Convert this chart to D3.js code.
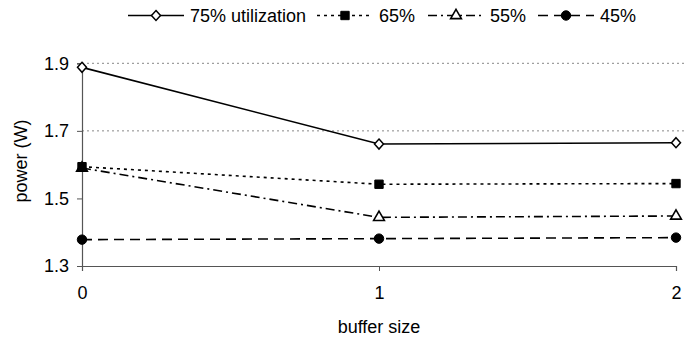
<!DOCTYPE html>
<html>
<head>
<meta charset="utf-8">
<script src="https://cdn.jsdelivr.net/npm/d3@7"></script>
<style>
  html, body { margin: 0; padding: 0; background: #fff; }
  svg { display: block; font-family: "Liberation Sans", Arial, sans-serif; }
</style>
</head>
<body>
<svg id="chart" width="691" height="337"></svg>
<script>
// Buffer size on the x axis
const bufferSizes = [0, 1, 2];

// Power (W) per utilization level
const util75 = [1.888, 1.661, 1.665];
const util65 = [1.594, 1.542, 1.544];
const util55 = [1.590, 1.444, 1.448];
const util45 = [1.378, 1.381, 1.384];

const seriesNames = ["75% utilization", "65%", "55%", "45%"];
const yTicks = [1.3, 1.5, 1.7, 1.9];
const gridValues = [1.7, 1.9];

const series = [
  { name: seriesNames[0], values: util75, dash: null,        marker: "diamond",  fill: "#fff" },
  { name: seriesNames[1], values: util65, dash: "3,4",       marker: "square",   fill: "#000" },
  { name: seriesNames[2], values: util55, dash: "9,4,2,4",   marker: "triangle", fill: "#fff" },
  { name: seriesNames[3], values: util45, dash: "10,6",      marker: "circle",   fill: "#000" }
];

const svg = d3.select("#chart");
const plotLeft = 82, plotRight = 676, plotTop = 63.3, plotBottom = 266, gridRight = 685;

const x = d3.scaleLinear().domain([0, 2]).range([plotLeft, plotRight]);
const y = d3.scaleLinear().domain([1.3, 1.9]).range([plotBottom, plotTop]);

// Gridlines
svg.append("g").selectAll("line").data(gridValues).join("line")
  .attr("x1", plotLeft).attr("x2", gridRight)
  .attr("y1", d => y(d)).attr("y2", d => y(d))
  .attr("stroke", "#888").attr("stroke-width", 1)
  .attr("stroke-dasharray", "2,3");

// Y axis
const yAxis = svg.append("g").attr("transform", `translate(${plotLeft},0)`)
  .call(d3.axisLeft(y).tickValues(yTicks).tickFormat(d3.format(".1f")).tickSize(5).tickPadding(8));
yAxis.select(".domain").attr("stroke", "#555").attr("stroke-width", 1.2);
yAxis.selectAll(".tick line").attr("stroke", "#555");
yAxis.selectAll("text").attr("font-size", 18).attr("fill", "#000");

// X axis
const xAxis = svg.append("g").attr("transform", `translate(0,${plotBottom})`)
  .call(d3.axisBottom(x).tickValues(bufferSizes).tickFormat(d3.format("d")).tickSize(5).tickPadding(15));
xAxis.select(".domain").attr("stroke", "#555").attr("stroke-width", 1.2);
xAxis.selectAll(".tick line").attr("stroke", "#555");
xAxis.selectAll("text").attr("font-size", 18).attr("fill", "#000");

// Axis titles
svg.append("text").attr("x", (plotLeft + plotRight) / 2).attr("y", 333)
  .attr("text-anchor", "middle").attr("font-size", 18).text("buffer size");
svg.append("text").attr("transform", "translate(27,161) rotate(-90)")
  .attr("text-anchor", "middle").attr("font-size", 18).text("power (W)");

const symbolType = {
  square: d3.symbolSquare,
  triangle: d3.symbolTriangle,
  circle: d3.symbolCircle
};
const symbolSize = { square: 70, triangle: 50, circle: 70 };

function drawMarker(g, s, cx, cy) {
  if (s.marker === "diamond") {
    g.append("path")
      .attr("d", `M${cx},${cy - 5}L${cx + 4.5},${cy}L${cx},${cy + 5}L${cx - 4.5},${cy}Z`)
      .attr("fill", s.fill).attr("stroke", "#000").attr("stroke-width", 1.5);
  } else {
    g.append("path")
      .attr("d", d3.symbol().type(symbolType[s.marker]).size(symbolSize[s.marker])())
      .attr("transform", `translate(${cx},${cy})`)
      .attr("fill", s.fill).attr("stroke", "#000").attr("stroke-width", s.marker === "triangle" ? 1.6 : 1);
  }
}

const line = d3.line().x((d, i) => x(bufferSizes[i])).y(d => y(d));

// Series lines and markers
series.slice().reverse().forEach(s => {
  const g = svg.append("g");
  g.append("path").datum(s.values)
    .attr("d", line).attr("fill", "none").attr("stroke", "#000")
    .attr("stroke-width", 1.6)
    .attr("stroke-dasharray", s.dash);
  s.values.forEach((v, i) => drawMarker(g, s, x(bufferSizes[i]), y(v)));
});

// Legend
const legendItems = [
  { s: series[0], x0: 128 },
  { s: series[1], x0: 317 },
  { s: series[2], x0: 428 },
  { s: series[3], x0: 538 }
];
const ly = 15.5;
legendItems.forEach(({ s, x0 }) => {
  const g = svg.append("g");
  g.append("line").attr("x1", x0).attr("x2", x0 + 56)
    .attr("y1", ly).attr("y2", ly)
    .attr("stroke", "#000").attr("stroke-width", 1.6)
    .attr("stroke-dasharray", s.dash);
  drawMarker(g, s, x0 + 28, ly);
  g.append("text").attr("x", x0 + 62).attr("y", ly + 6.5)
    .attr("font-size", 18).text(s.name);
});
</script>
</body>
</html>
